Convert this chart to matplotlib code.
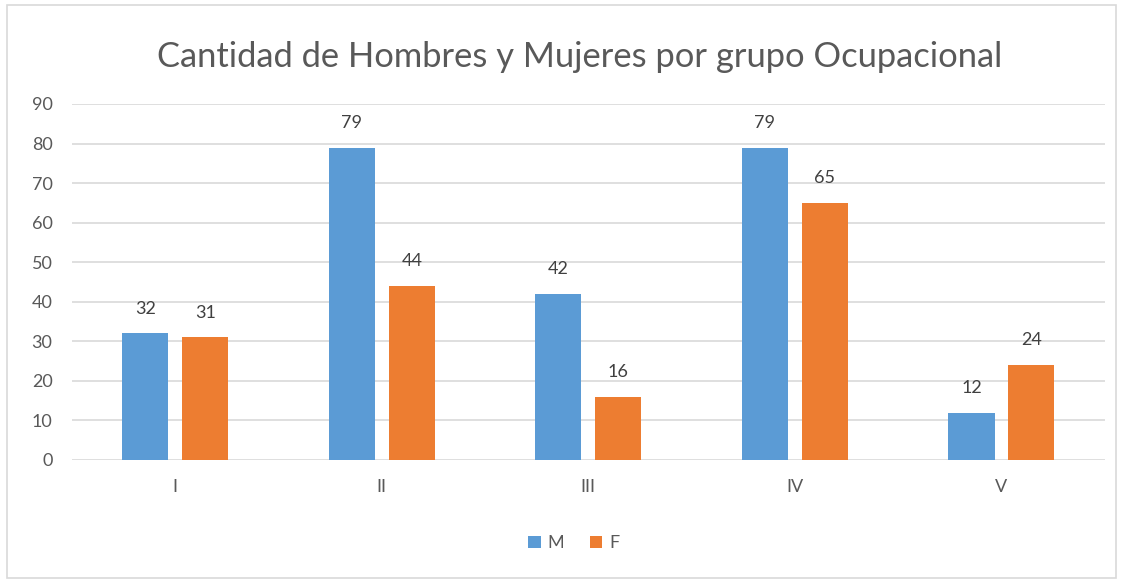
import numpy as np
import matplotlib.pyplot as plt
from matplotlib.patches import Rectangle

categories = ['I', 'II', 'III', 'IV', 'V']
hombres = [32, 79, 42, 79, 12]
mujeres = [31, 44, 16, 65, 24]

plt.rcParams['font.family'] = ['Lato', 'DejaVu Sans']
gris = '#595959'

fig = plt.figure(figsize=(11.25, 5.8), dpi=100)
ax = fig.add_axes([0.064, 0.2069, 0.918, 0.6138])

x = np.arange(len(categories))
ancho = 0.223
b1 = ax.bar(x - 0.145, hombres, ancho, color='#5B9BD5', label='M', zorder=3)
b2 = ax.bar(x + 0.145, mujeres, ancho, color='#ED7D31', label='F', zorder=3)

for barras in (b1, b2):
    for b in barras:
        ax.annotate(str(int(b.get_height())), (b.get_x() + b.get_width() / 2, b.get_height()),
                    xytext=(0, 12), textcoords='offset points', ha='center', va='bottom',
                    fontsize=13, color='#404040')

ax.set_xlim(-0.5, 4.5)
ax.set_ylim(0, 90)
ax.set_yticks(range(0, 91, 10))
ax.set_xticks(x)
ax.set_xticklabels(categories)
ax.grid(axis='y', color='#D9D9D9', linewidth=1.2, zorder=0)
for s in ax.spines.values():
    s.set_visible(False)
ax.tick_params(length=0, labelsize=13, colors=gris)
ax.tick_params(axis='y', pad=14)
ax.tick_params(axis='x', pad=14)

fig.text(0.515, 0.902, 'Cantidad de Hombres y Mujeres por grupo Ocupacional',
         ha='center', va='center', fontsize=24.8, color=gris)

fig.legend(handles=[b1, b2], loc='center', bbox_to_anchor=(0.51, 0.063), ncol=2,
           frameon=False, fontsize=13, handlelength=0.7, handleheight=0.7,
           handletextpad=0.4, columnspacing=1.4, labelcolor=gris)

fig.patches.append(Rectangle((0.006, 0.004), 0.986, 0.988, transform=fig.transFigure,
                             fill=False, edgecolor='#D9D9D9', linewidth=1.2))

fig.savefig('out.png', dpi=100)
